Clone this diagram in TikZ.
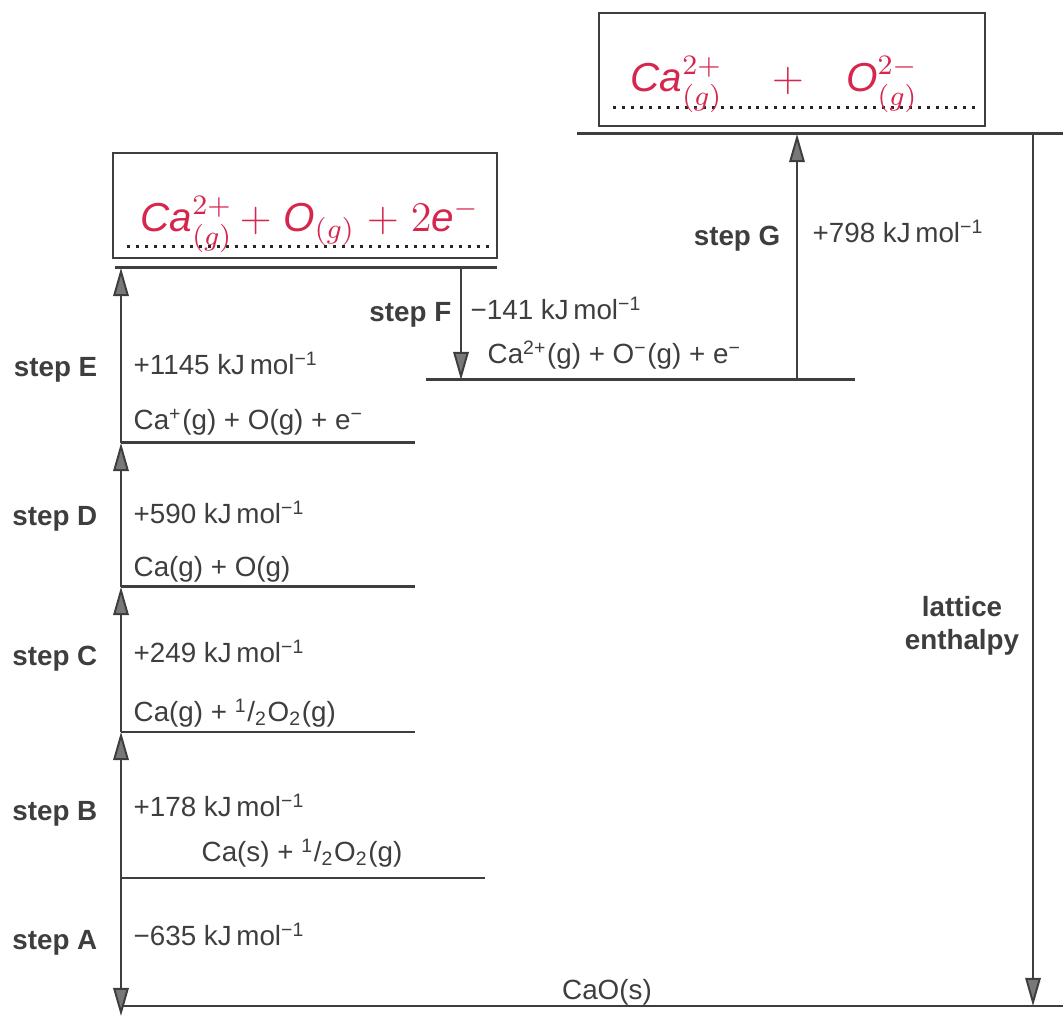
\documentclass[tikz,border=0pt]{standalone}
\usepackage{fontspec}
\setmainfont{Liberation Sans}
\usepackage{amsmath}
\usepackage{xcolor}
\usetikzlibrary{arrows.meta}

\definecolor{inkgray}{RGB}{62,62,62}
\definecolor{tipgray}{RGB}{120,120,120}
\definecolor{handred}{RGB}{214,38,77}

\begin{document}
\begin{tikzpicture}[x=0.01cm, y=-0.01cm,
    energyline/.style={draw=inkgray, line width=0.85pt},
    steparrow/.style={draw=inkgray, line width=0.55pt, -{Triangle[length=8pt, width=4.4pt, fill=tipgray]}},
    answerbox/.style={draw=inkgray, line width=0.7pt},
    dotline/.style={draw=black!85, line width=0.85pt, dash pattern=on 0.85pt off 1.7pt},
    steplbl/.style={inkgray, font=\fontsize{7.9}{9.4}\selectfont\bfseries, inner sep=0pt},
    enval/.style={inkgray, font=\fontsize{7.9}{9.4}\selectfont, inner sep=0pt},
    handtext/.style={handred, font=\fontsize{11.5}{14}\selectfont, inner sep=0pt}]
    \useasboundingbox (0,0) rectangle (1063,1019);

    \draw[answerbox] (113,153) rectangle (497,258);
    \draw[dotline] (127,247) -- (489,247);
    \node (boxEtext) [handtext, anchor=base west] at (140,232) {$\mathit{Ca}^{2+}_{(g)}\,{+}\;\mathit{O}_{(g)}\;{+}\;2\mathit{e}^{-}$};

    \draw[answerbox] (599,13) rectangle (985,126);
    \draw[dotline] (613,108) -- (975,108);
    \node (boxGtext) [handtext, anchor=base west] at (630,92) {$\mathit{Ca}^{2+}_{(g)}\hspace{14pt}{+}\hspace{12pt}\mathit{O}^{2-}_{(g)}$};

    \draw[energyline] (115,268) -- (497,268);
    \draw[energyline] (577,134) -- (1063,134);
    \draw[energyline] (426,380) -- (855,380);
    \draw[energyline] (121,443) -- (415,443);
    \draw[energyline] (121,587) -- (415,587);
    \draw[energyline] (121,732) -- (415,732);
    \draw[energyline] (121,878) -- (485,878);
    \draw[energyline] (121,1006) -- (1063,1006);

    \coordinate (lvlA) at (121,1016);
    \coordinate (lvlB) at (121,878);
    \coordinate (lvlC) at (121,732);
    \coordinate (lvlD) at (121,587);
    \coordinate (lvlE) at (121,443);
    \coordinate (lvlEtop) at (121,268);
    \coordinate (fTop) at (461,268);
    \coordinate (fBot) at (461,380);
    \coordinate (gBot) at (797,380);
    \coordinate (gTop) at (797,134);
    \coordinate (latTop) at (1033,134);
    \coordinate (latBot) at (1033,1006);

    \draw[steparrow] (lvlB) -- (lvlA);
    \draw[steparrow] (lvlB) -- (lvlC);
    \draw[steparrow] (lvlC) -- (lvlD);
    \draw[steparrow] (lvlD) -- (lvlE);
    \draw[steparrow] (lvlE) -- (lvlEtop);
    \draw[steparrow] (fTop) -- (fBot);
    \draw[steparrow] (gBot) -- (gTop);
    \draw[steparrow] (latTop) -- (latBot);

    \node (stepE) [steplbl, anchor=base east] at (98,377) {step E};
    \node (valE) [enval, anchor=base west] at (133,375) {+1145 kJ\,mol\textsuperscript{−1}};
    \node (caplus) [enval, anchor=base west] at (133,430) {Ca\textsuperscript{+}(g) + O(g) + e\textsuperscript{−}};

    \node (stepD) [steplbl, anchor=base east] at (98,526) {step D};
    \node (valD) [enval, anchor=base west] at (133,524) {+590 kJ\,mol\textsuperscript{−1}};
    \node (cago) [enval, anchor=base west] at (133,577) {Ca(g) + O(g)};

    \node (stepC) [steplbl, anchor=base east] at (98,666) {step C};
    \node (valC) [enval, anchor=base west] at (133,663) {+249 kJ\,mol\textsuperscript{−1}};
    \node (cag) [enval, anchor=base west] at (133,722) {Ca(g) + \textsuperscript{1}/\textsubscript{2}O\textsubscript{2}(g)};

    \node (stepB) [steplbl, anchor=base east] at (98,821) {step B};
    \node (valB) [enval, anchor=base west] at (133,817) {+178 kJ\,mol\textsuperscript{−1}};
    \node (cas) [enval, anchor=base] at (302,862) {Ca(s) + \textsuperscript{1}/\textsubscript{2}O\textsubscript{2}(g)};

    \node (stepA) [steplbl, anchor=base east] at (98,950) {step A};
    \node (valA) [enval, anchor=base west] at (133,946) {−635 kJ\,mol\textsuperscript{−1}};
    \node (cao) [enval, anchor=base] at (607,1000) {CaO(s)};

    \node (stepF) [steplbl, anchor=base east] at (452,322) {step F};
    \node (valF) [enval, anchor=base west] at (470,320) {−141 kJ\,mol\textsuperscript{−1}};
    \node (ca2plus) [enval, anchor=base west] at (487,364) {Ca\textsuperscript{2+}(g) + O\textsuperscript{−}(g) + e\textsuperscript{−}};

    \node (stepG) [steplbl, anchor=base east] at (781,246) {step G};
    \node (valG) [enval, anchor=base west] at (812,243) {+798 kJ\,mol\textsuperscript{−1}};

    \node (lattice) [steplbl, align=center] at (962,626) {lattice\\enthalpy};
\end{tikzpicture}
\end{document}
